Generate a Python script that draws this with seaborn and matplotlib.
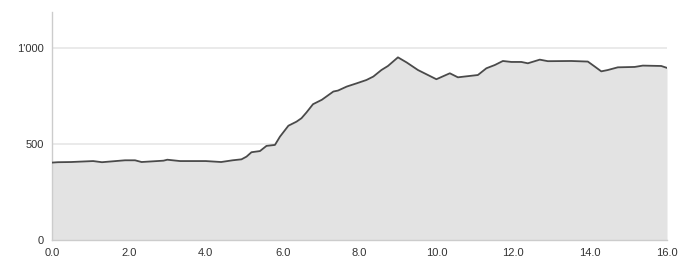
import matplotlib
matplotlib.use("Agg")
import matplotlib.pyplot as plt
import seaborn as sns
import pandas as pd

# Elevation profile (distance in km, elevation in m)
distance = [0.0, 0.15, 0.5, 1.07, 1.3, 1.9, 2.16, 2.33, 2.9, 3.0, 3.33, 4.0, 4.4, 4.7, 4.93,
            5.06, 5.19, 5.41, 5.58, 5.8, 5.93, 6.15, 6.36, 6.49, 6.62, 6.79, 7.02, 7.32,
            7.44, 7.67, 7.93, 8.18, 8.36, 8.57, 8.74, 9.0, 9.23, 9.52, 9.78, 10.0, 10.35,
            10.56, 11.08, 11.3, 11.52, 11.73, 11.95, 12.21, 12.38, 12.69, 12.9, 13.51,
            13.94, 14.12, 14.29, 14.46, 14.72, 15.16, 15.37, 15.85, 16.0]
elevation = [403, 405, 406, 411, 405, 415, 415, 406, 413, 418, 411, 411, 406, 415, 420,
             434, 457, 463, 490, 495, 538, 595, 616, 634, 664, 707, 730, 773,
             778, 799, 816, 833, 851, 885, 906, 951, 924, 885, 859, 837, 868,
             847, 859, 894, 911, 932, 927, 927, 920, 939, 931, 932,
             929, 903, 878, 885, 899, 901, 908, 906, 896]

x_ticks = [0, 2, 4, 6, 8, 10, 12, 14, 16]
x_labels = ["0.0", "2.0", "4.0", "6.0", "8.0", "10.0", "12.0", "14.0", "16.0"]
y_ticks = [0, 500, 1000]
y_labels = ["0", "500", "1'000"]

df = pd.DataFrame({"distance": distance, "elevation": elevation})

sns.set_style("white")
plt.rcParams["font.family"] = ["Liberation Sans", "DejaVu Sans"]

fig = plt.figure(figsize=(6.78, 2.64), dpi=100)
ax = fig.add_axes([0.0767, 0.0909, 0.9071, 0.8636])

ax.fill_between(df["distance"], df["elevation"], 0, color="#e3e3e3", linewidth=0, zorder=2)
sns.lineplot(data=df, x="distance", y="elevation", ax=ax, color="#4a4a4a", linewidth=1.3, zorder=3)

ax.set_xlim(0, 16)
ax.set_ylim(0, 1187)
ax.set_xticks(x_ticks)
ax.set_xticklabels(x_labels)
ax.set_yticks(y_ticks)
ax.set_yticklabels(y_labels)
ax.set_xlabel("")
ax.set_ylabel("")

ax.grid(axis="y", color="#e6e6e6", linewidth=1.2, zorder=1)
ax.grid(axis="x", visible=False)
ax.set_axisbelow(True)

for side in ["top", "right"]:
    ax.spines[side].set_visible(False)
for side in ["left", "bottom"]:
    ax.spines[side].set_color("#cccccc")
    ax.spines[side].set_linewidth(1.0)

ax.tick_params(axis="both", colors="#cccccc", labelcolor="#333333", labelsize=8,
               length=4, width=1, pad=2)

fig.savefig("out.png", dpi=100)
